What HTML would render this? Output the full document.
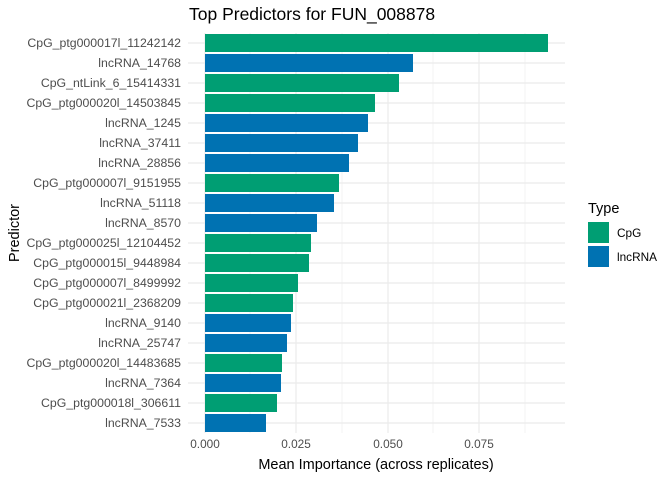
<!DOCTYPE html><html><head><style>body{margin:0;background:#fff}</style></head><body>
<svg width="672" height="480" xmlns="http://www.w3.org/2000/svg" font-family="Liberation Sans, sans-serif">
<rect width="672" height="480" fill="#fff"/>
<g stroke="#ebebeb" stroke-width="0.6">
<line x1="250" y1="33" x2="250" y2="433"/><line x1="342" y1="33" x2="342" y2="433"/><line x1="433" y1="33" x2="433" y2="433"/><line x1="525" y1="33" x2="525" y2="433"/>
</g>
<g stroke="#ebebeb" stroke-width="1.2" id="g"></g>
<g id="bars"></g>
<g id="lab" font-size="12.3" fill="#4d4d4d" text-anchor="end"></g>
<g font-size="11.8" fill="#4d4d4d" text-anchor="middle">
<text x="205" y="448">0.000</text><text x="296" y="448">0.025</text><text x="388" y="448">0.050</text><text x="479" y="448">0.075</text>
</g>
<text x="376" y="469" font-size="14.5" text-anchor="middle" fill="#000">Mean Importance (across replicates)</text>
<text transform="translate(19,233) rotate(-90)" font-size="14.5" text-anchor="middle" fill="#000">Predictor</text>
<text x="189" y="20" font-size="17.5" fill="#000">Top Predictors for FUN_008878</text>
<text x="588" y="213" font-size="14.5" fill="#000">Type</text>
<rect x="588" y="222" width="21" height="21" fill="#009E73"/>
<rect x="588" y="246" width="21" height="21" fill="#0072B2"/>
<text x="617" y="237" font-size="11.8" fill="#000">CpG</text>
<text x="617" y="261" font-size="11.8" fill="#000">lncRNA</text>
<script>
var d=[["CpG_ptg000017l_11242142",548,0],["lncRNA_14768",413,1],["CpG_ntLink_6_15414331",399,0],["CpG_ptg000020l_14503845",375,0],["lncRNA_1245",368,1],["lncRNA_37411",358,1],["lncRNA_28856",349,1],["CpG_ptg000007l_9151955",339,0],["lncRNA_51118",334,1],["lncRNA_8570",317,1],["CpG_ptg000025l_12104452",311,0],["CpG_ptg000015l_9448984",309,0],["CpG_ptg000007l_8499992",298,0],["CpG_ptg000021l_2368209",293,0],["lncRNA_9140",291,1],["lncRNA_25747",287,1],["CpG_ptg000020l_14483685",282,0],["lncRNA_7364",281,1],["CpG_ptg000018l_306611",277,0],["lncRNA_7533",266,1]];
var ns="http://www.w3.org/2000/svg",g=document.getElementById("g"),b=document.getElementById("bars"),l=document.getElementById("lab");
function el(p,t,a,txt){var e=document.createElementNS(ns,t);for(var k in a)e.setAttribute(k,a[k]);if(txt)e.textContent=txt;p.appendChild(e);}
[205,296,388,479].forEach(function(x){el(g,"line",{x1:x,y1:33,x2:x,y2:433});});
d.forEach(function(r,i){var c=43+i*20;el(g,"line",{x1:188,y1:c,x2:565,y2:c});el(b,"rect",{x:205,y:c-9,width:r[1]-205,height:18,fill:r[2]?"#0072B2":"#009E73"});el(l,"text",{x:181,y:c+4},r[0]);});
</script>
</svg></body></html>
